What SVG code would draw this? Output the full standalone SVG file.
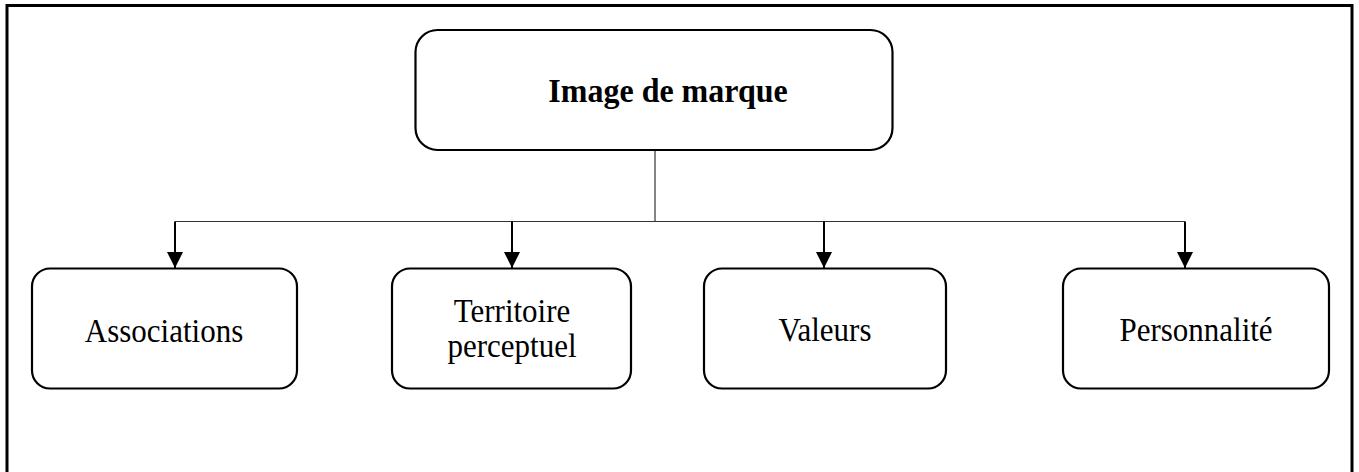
<svg xmlns="http://www.w3.org/2000/svg" width="1359" height="472" viewBox="0 0 1359 472">
  <style>
    .box { fill: #ffffff; stroke: #000000; stroke-width: 2.2; }
    .label { font-family: "Liberation Serif", "Times New Roman", serif; font-size: 31px; fill: #000000; text-anchor: middle; }
    .title { font-weight: bold; font-size: 32px; }
    .trunk { fill: none; stroke: #333333; stroke-width: 1.2; }
    .drop { fill: none; stroke: #000000; stroke-width: 2; }
  </style>
  <defs>
    <marker id="arrow" markerUnits="userSpaceOnUse" markerWidth="16" markerHeight="16" refX="16" refY="8" orient="auto">
      <path d="M0,0 L16,8 L0,16 Z" fill="#000000"/>
    </marker>
  </defs>

  <!-- outer frame (open at the bottom) -->
  <path d="M7,480 L7,5.5 L1352,5.5 L1352,480" fill="none" stroke="#000000" stroke-width="3"/>

  <!-- connectors -->
  <g id="connectors">
    <path class="trunk" d="M655,150 L655,221.5"/>
    <path class="trunk" d="M175,221.5 L1185,221.5"/>
    <path class="drop" d="M175,221.5 L175,268" marker-end="url(#arrow)"/>
    <path class="drop" d="M512,221.5 L512,268" marker-end="url(#arrow)"/>
    <path class="drop" d="M824,221.5 L824,268" marker-end="url(#arrow)"/>
    <path class="drop" d="M1185,221.5 L1185,268" marker-end="url(#arrow)"/>
  </g>

  <g id="image-de-marque">
    <rect class="box" x="415.5" y="30" width="477" height="120" rx="22"/>
    <text class="label title" transform="translate(668,101.5) scale(1,1.05)">Image de marque</text>
  </g>

  <g id="associations">
    <rect class="box" x="32" y="268.5" width="265" height="120" rx="18"/>
    <text class="label" transform="translate(164,341.5) scale(1,1.1)">Associations</text>
  </g>

  <g id="territoire-perceptuel">
    <rect class="box" x="392" y="268.5" width="239" height="120" rx="18"/>
    <text class="label" transform="translate(512,321.5) scale(1,1.1)">Territoire</text>
    <text class="label" transform="translate(512,356.5) scale(1,1.1)">perceptuel</text>
  </g>

  <g id="valeurs">
    <rect class="box" x="704" y="268.5" width="242" height="120" rx="18"/>
    <text class="label" transform="translate(825,340.5) scale(1,1.1)">Valeurs</text>
  </g>

  <g id="personnalite">
    <rect class="box" x="1063" y="268.5" width="266" height="120" rx="18"/>
    <text class="label" transform="translate(1196,340.5) scale(1,1.1)">Personnalité</text>
  </g>
</svg>
